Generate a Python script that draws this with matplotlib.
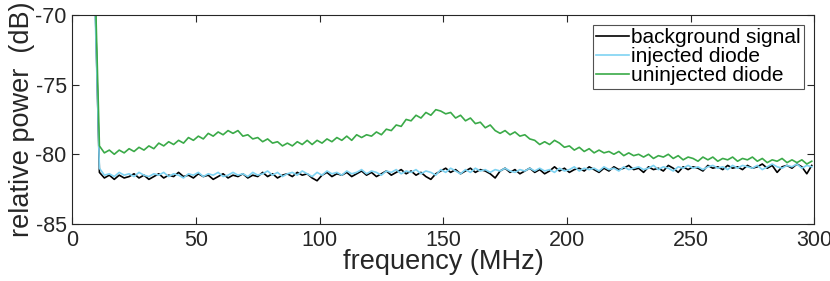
import numpy as np
import matplotlib
matplotlib.use("Agg")
from matplotlib import pyplot as plt

plt.rcParams['font.family'] = ['Liberation Sans', 'DejaVu Sans']
plt.rcParams['axes.unicode_minus'] = False

# frequency grid (MHz)
freq = np.arange(9, 301, 2)

# background signal (dB)
background = [
    -67.0, -81.3, -81.7, -81.5, -81.8, -81.5, -81.7, -81.6, -81.4, -81.7,
    -81.5, -81.8, -81.6, -81.4, -81.7, -81.5, -81.6, -81.3, -81.6, -81.5,
    -81.7, -81.4, -81.6, -81.5, -81.8, -81.6, -81.4, -81.7, -81.5, -81.6,
    -81.4, -81.7, -81.5, -81.6, -81.3, -81.6, -81.4, -81.7, -81.5, -81.4,
    -81.6, -81.3, -81.5, -81.4, -81.7, -81.9, -81.5, -81.3, -81.6, -81.4,
    -81.5, -81.3, -81.6, -81.4, -81.2, -81.5, -81.3, -81.6, -81.4, -81.2,
    -81.5, -81.3, -81.1, -81.4, -81.2, -81.5, -81.3, -81.6, -81.8, -81.4,
    -81.2, -81.0, -81.3, -81.1, -81.4, -81.2, -81.0, -81.3, -81.1, -81.2,
    -81.4, -81.7, -81.2, -81.0, -81.3, -81.1, -81.4, -81.2, -81.0, -81.3,
    -81.1, -81.4, -81.2, -80.9, -81.2, -81.0, -81.3, -81.1, -81.0, -81.2,
    -80.9, -81.1, -81.3, -81.0, -81.2, -80.9, -81.1, -81.0, -80.8, -81.1,
    -81.0, -81.3, -80.9, -81.1, -81.0, -81.2, -80.8, -81.0, -81.3, -80.9,
    -81.1, -80.9, -81.0, -81.2, -80.8, -81.0, -80.9, -81.1, -80.8, -81.0,
    -80.9, -81.1, -80.8, -81.0, -80.9, -80.7, -81.0, -80.8, -81.3, -80.9,
    -80.8, -81.0, -80.7, -80.9, -81.4, -80.8,
]

# injected diode (dB)
injected = [
    -68.0, -81.0, -81.5, -81.4, -81.6, -81.3, -81.5, -81.4, -81.6, -81.3,
    -81.5, -81.6, -81.4, -81.5, -81.3, -81.6, -81.4, -81.5, -81.7, -81.4,
    -81.5, -81.3, -81.6, -81.4, -81.5, -81.3, -81.6, -81.5, -81.3, -81.5,
    -81.4, -81.6, -81.3, -81.5, -81.4, -81.2, -81.5, -81.3, -81.6, -81.4,
    -81.3, -81.5, -81.2, -81.4, -81.6, -81.3, -81.5, -81.2, -81.4, -81.3,
    -81.5, -81.2, -81.4, -81.3, -81.1, -81.4, -81.2, -81.3, -81.5, -81.2,
    -81.3, -81.1, -81.4, -81.2, -81.3, -81.1, -81.4, -81.2, -81.3, -81.5,
    -81.1, -81.3, -81.0, -81.2, -81.4, -81.1, -81.3, -81.0, -81.2, -81.1,
    -81.3, -81.1, -81.2, -81.0, -81.2, -81.3, -81.1, -81.2, -81.0, -81.2,
    -81.0, -81.2, -81.1, -81.3, -81.0, -81.2, -81.1, -80.9, -81.2, -81.0,
    -81.1, -81.0, -81.2, -80.9, -81.1, -81.0, -81.2, -80.9, -81.1, -81.0,
    -80.9, -81.1, -81.0, -80.8, -81.1, -80.9, -81.0, -81.2, -80.9, -81.0,
    -80.8, -81.0, -80.9, -81.1, -80.9, -80.8, -81.0, -80.9, -81.1, -80.8,
    -81.0, -80.8, -80.9, -81.0, -80.8, -81.1, -80.9, -80.7, -80.9, -81.0,
    -80.8, -80.9, -80.7, -81.0, -80.8, -80.9,
]

# uninjected diode (dB)
uninjected = [
    -66.0, -79.4, -79.9, -79.7, -80.0, -79.7, -79.9, -79.6, -79.8, -79.5,
    -79.7, -79.4, -79.6, -79.2, -79.4, -79.1, -79.3, -79.0, -79.2, -78.8,
    -79.0, -78.7, -78.9, -78.5, -78.7, -78.4, -78.6, -78.3, -78.5, -78.3,
    -78.7, -78.6, -78.9, -78.8, -79.1, -78.9, -79.2, -79.1, -79.4, -79.2,
    -79.4, -79.1, -79.3, -79.0, -79.3, -79.0, -79.2, -78.9, -79.1, -78.8,
    -79.0, -78.7, -79.0, -78.6, -78.8, -78.6, -78.7, -78.4, -78.6, -78.2,
    -78.3, -77.9, -78.0, -77.5, -77.6, -77.2, -77.4, -77.0, -77.2, -76.8,
    -76.9, -77.1, -77.0, -77.4, -77.2, -77.6, -77.4, -77.8, -77.7, -78.1,
    -77.9, -78.3, -78.5, -78.3, -78.6, -78.4, -78.7, -78.6, -78.9, -79.0,
    -79.3, -79.1, -79.3, -79.0, -79.2, -79.5, -79.4, -79.7, -79.5, -79.8,
    -79.6, -79.9, -79.7, -79.9, -79.8, -80.0, -79.8, -80.1, -79.9, -80.1,
    -80.0, -80.2, -80.0, -80.3, -80.1, -80.2, -80.0, -80.3, -80.1, -80.4,
    -80.2, -80.3, -80.5, -80.2, -80.4, -80.2, -80.5, -80.3, -80.4, -80.2,
    -80.5, -80.3, -80.4, -80.2, -80.5, -80.3, -80.6, -80.4, -80.5, -80.3,
    -80.6, -80.4, -80.6, -80.4, -80.7, -80.5,
]

fig = plt.figure(figsize=(8.3, 2.81), dpi=100)
ax = fig.add_axes([0.087, 0.203, 0.894, 0.744])

ax.plot(freq, background, color='black', lw=1.2, label='background signal')
ax.plot(freq, injected, color='#7fd3f2', lw=1.2, label='injected diode')
ax.plot(freq, uninjected, color='#3aaa48', lw=1.2, label='uninjected diode')

ax.set_xlim(0, 300)
ax.set_ylim(-85, -70)
ax.set_xticks([0, 50, 100, 150, 200, 250, 300])
ax.set_yticks([-85, -80, -75, -70])
ax.tick_params(direction='in', top=True, right=True, labelsize=15.5, length=5,
               width=0.8, colors='#262626', pad=4)
for s in ax.spines.values():
    s.set_color('#262626')
    s.set_linewidth(0.8)

ax.set_xlabel('frequency (MHz)', fontsize=19.5, labelpad=-1, color='#262626')
ax.set_ylabel('relative power  (dB)', fontsize=19.5, labelpad=0, color='#262626')

leg = ax.legend(loc='upper right', fontsize=15, frameon=True, fancybox=False,
                handlelength=1.6, handletextpad=0.1, borderpad=0.15,
                labelspacing=0.0, borderaxespad=0.5)
leg.get_frame().set_edgecolor('#262626')
leg.get_frame().set_linewidth(0.8)

fig.savefig('out.png', dpi=100)
